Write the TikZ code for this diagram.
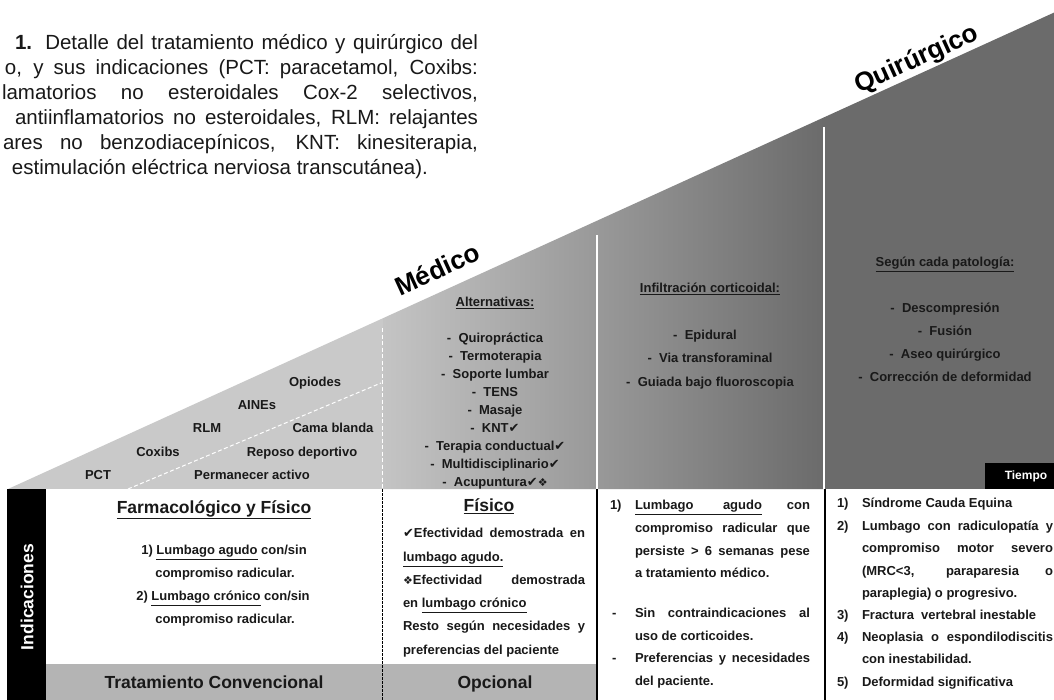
\documentclass[tikz,border=0pt]{standalone}
\usepackage{fontspec}
\setmainfont{Liberation Sans}
\newfontfamily\dvsym{DejaVu Sans}
\newcommand\chk{{\dvsym\mdseries\fontsize{13}{13}\selectfont ✔}}
\newcommand\dmd{{\dvsym\mdseries\fontsize{11}{11}\selectfont ❖}}
\definecolor{lgray}{RGB}{201,201,201}
\definecolor{mgray}{RGB}{196,196,196}
\definecolor{dgray}{RGB}{107,107,107}
\definecolor{bandgray}{RGB}{180,180,180}
\definecolor{ink}{RGB}{25,25,25}
\begin{document}
\begin{tikzpicture}[x=1pt,y=-1pt,
  every node/.style={inner sep=0pt,outer sep=0pt},
  lbl/.style={font=\bfseries\fontsize{13}{15}\selectfont,text=ink,text height=9.5pt,text depth=0pt},
  lw/.style={lbl,anchor=west},
  hd/.style={font=\bfseries\fontsize{17.5}{20}\selectfont,text=ink,text height=13pt,text depth=0pt},
  captxt/.style={font=\fontsize{20.5}{24}\selectfont,text=ink,text height=15pt,text depth=0pt,anchor=east},
  big/.style={font=\bfseries\fontsize{26}{28}\selectfont,text=black,rotate=24.5},
  wline/.style={white,line width=1.5pt},
  wdash/.style={white,line width=1pt,dash pattern=on 4pt off 2.5pt},
  bline/.style={black,line width=1.5pt},
  bdash/.style={black,line width=0.8pt,dash pattern=on 2.5pt off 1.5pt}]
\useasboundingbox (0,0) rectangle (1054,700);
\fill[white] (0,0) rectangle (1054,700);
% triangle
\begin{scope}
\clip (8,489) -- (1054,12.6) -- (1054,489) -- cycle;
\fill[lgray] (0,0) rectangle (383,489);
\shade[shading=axis,left color=mgray,right color=dgray] (383,0) rectangle (824,489);
\fill[dgray] (824,0) rectangle (1054,489);
\end{scope}
\draw[wline] (597,235) -- (597,489);
\draw[wline] (824,127) -- (824,489);
\draw[wdash] (382,328) -- (382,489);
\draw[wdash] (128,489) -- (381,383);
% Tiempo
\fill[black] (985,463) rectangle (1054,489);
\node[font=\bfseries\fontsize{12}{14}\selectfont,text=white] (tiempo) at (1026,476) {Tiempo};
% titles
\node[big] (medico) at (437,269) {Médico};
\node[big] (quir) at (917,60) {Quirúrgico};
% left section
\node[lbl] (opi) at (315,382) {Opiodes};
\node[lbl] (aine) at (257,405) {AINEs};
\node[lbl] (rlm) at (207,428) {RLM};
\node[lbl] (coxib) at (158,452) {Coxibs};
\node[lbl] (pct) at (98,475) {PCT};
\node[lbl] (cama) at (333,428) {Cama blanda};
\node[lbl] (reposo) at (302,452) {Reposo deportivo};
\node[lbl] (perm) at (252,475) {Permanecer activo};
% middle section
\node[lbl] (alt) at (495,302) {\underline{Alternativas:}};
\node[lbl] (m1) at (495,338) {-\ \ Quiropráctica};
\node[lbl] (m2) at (495,356) {-\ \ Termoterapia};
\node[lbl] (m3) at (495,374) {-\ \ Soporte lumbar};
\node[lbl] (m4) at (495,392) {-\ \ TENS};
\node[lbl] (m5) at (495,410) {-\ \ Masaje};
\node[lbl] (m6) at (495,428) {-\ \ KNT\chk};
\node[lbl] (m7) at (495,446) {-\ \ Terapia conductual\chk};
\node[lbl] (m8) at (495,464) {-\ \ Multidisciplinario\chk};
\node[lbl] (m9) at (495,482) {-\ \ Acupuntura\chk\dmd};
% third section
\node[lbl] (inf) at (710,288) {\underline{Infiltración corticoidal:}};
\node[lbl] (i1) at (705,335) {-\ \ Epidural};
\node[lbl] (i2) at (710,358) {-\ \ Via transforaminal};
\node[lbl] (i3) at (710,382) {-\ \ Guiada bajo fluoroscopia};
% fourth section
\node[lbl] (seg) at (945,262) {\underline{Según cada patología:}};
\node[lbl] (q1) at (945,308) {-\ \ Descompresión};
\node[lbl] (q2) at (945,331) {-\ \ Fusión};
\node[lbl] (q3) at (945,354) {-\ \ Aseo quirúrgico};
\node[lbl] (q4) at (945,377) {-\ \ Corrección de deformidad};
% lower table
\fill[black] (7,489) rectangle (46,700);
\fill[bandgray] (46,664) rectangle (597,700);
\draw[bline] (597,489) -- (597,700);
\draw[bline] (825,489) -- (825,700);
\draw[bdash] (382,489) -- (382,700);
\node[font=\bfseries\fontsize{17.5}{20}\selectfont,text=white,rotate=90] (indic) at (27,597) {Indicaciones};
% column 1
\node[hd] (h1) at (214,507) {\underline{Farmacológico y Físico}};
\node[lbl] (c11) at (224,550) {1) \underline{Lumbago agudo} con/sin};
\node[lbl] (c12) at (225,573) {compromiso radicular.};
\node[lbl] (c13) at (223,596) {2) \underline{Lumbago crónico} con/sin};
\node[lbl] (c14) at (225,619) {compromiso radicular.};
\node[hd] (b1) at (214,682) {Tratamiento Convencional};
% column 2
\node[hd] (h2) at (489,505) {\underline{Físico}};
\node[lw] (t21) at (403,533) {\makebox[182pt][s]{\chk Efectividad demostrada en}};
\node[lw] (t22) at (403,557) {\underline{lumbago agudo.}};
\node[lw] (t23) at (403,580) {\makebox[182pt][s]{\dmd Efectividad demostrada}};
\node[lw] (t24) at (403,603) {en \underline{lumbago crónico}};
\node[lw] (t25) at (403,626) {\makebox[182pt][s]{Resto según necesidades y}};
\node[lw] (t26) at (403,650) {preferencias del paciente};
\node[hd] (b2) at (495,682) {Opcional};
% column 3
\node[lw] (n31) at (610,505) {1)};
\node[lw] (t31) at (635,505) {\hbox to 175pt{\underline{\hbox to 127pt{Lumbago\hfill agudo}}\hfill con}};
\node[lw] (t32) at (635,528) {\makebox[175pt][s]{compromiso radicular que}};
\node[lw] (t33) at (635,551) {\makebox[175pt][s]{persiste > 6 semanas pese}};
\node[lw] (t34) at (635,573) {a tratamiento médico.};
\node[lw] (d31) at (612,613) {-};
\node[lw] (t35) at (635,613) {\makebox[175pt][s]{Sin contraindicaciones al}};
\node[lw] (t36) at (635,636) {uso de corticoides.};
\node[lw] (d32) at (612,658) {-};
\node[lw] (t37) at (635,658) {\makebox[175pt][s]{Preferencias y necesidades}};
\node[lw] (t38) at (635,681) {del paciente.};
% column 4
\node[lw] (n41) at (837,503) {1)};
\node[lw] (t41) at (862,503) {Síndrome Cauda Equina};
\node[lw] (n42) at (837,526) {2)};
\node[lw] (t42) at (862,526) {\makebox[191pt][s]{Lumbago con radiculopatía y}};
\node[lw] (t43) at (862,548) {\makebox[191pt][s]{compromiso motor severo}};
\node[lw] (t44) at (862,571) {\makebox[191pt][s]{(MRC<3, paraparesia o}};
\node[lw] (t45) at (862,593) {paraplegia) o progresivo.};
\node[lw] (n43) at (837,615) {3)};
\node[lw] (t46) at (862,615) {Fractura\ \ vertebral inestable};
\node[lw] (n44) at (837,637) {4)};
\node[lw] (t47) at (862,637) {\makebox[191pt][s]{Neoplasia o espondilodiscitis}};
\node[lw] (t48) at (862,659) {con inestabilidad.};
\node[lw] (n45) at (837,682) {5)};
\node[lw] (t49) at (862,682) {Deformidad significativa};
% caption
\node[captxt] (cap1) at (478,42) {\makebox[463pt][s]{\textbf{1.} Detalle del tratamiento médico y quirúrgico del}};
\node[captxt] (cap2) at (478,67) {\makebox[473pt][s]{o, y sus indicaciones (PCT: paracetamol, Coxibs:}};
\node[captxt] (cap3) at (478,92) {\makebox[476pt][s]{lamatorios no esteroidales Cox-2 selectivos,}};
\node[captxt] (cap4) at (478,117) {\makebox[463pt][s]{antiinflamatorios no esteroidales, RLM: relajantes}};
\node[captxt] (cap5) at (478,142) {\makebox[475pt][s]{ares no benzodiacepínicos, KNT: kinesiterapia,}};
\node[captxt,anchor=west] (cap6) at (12,167) {estimulación eléctrica nerviosa transcutánea).};
\end{tikzpicture}
\end{document}
